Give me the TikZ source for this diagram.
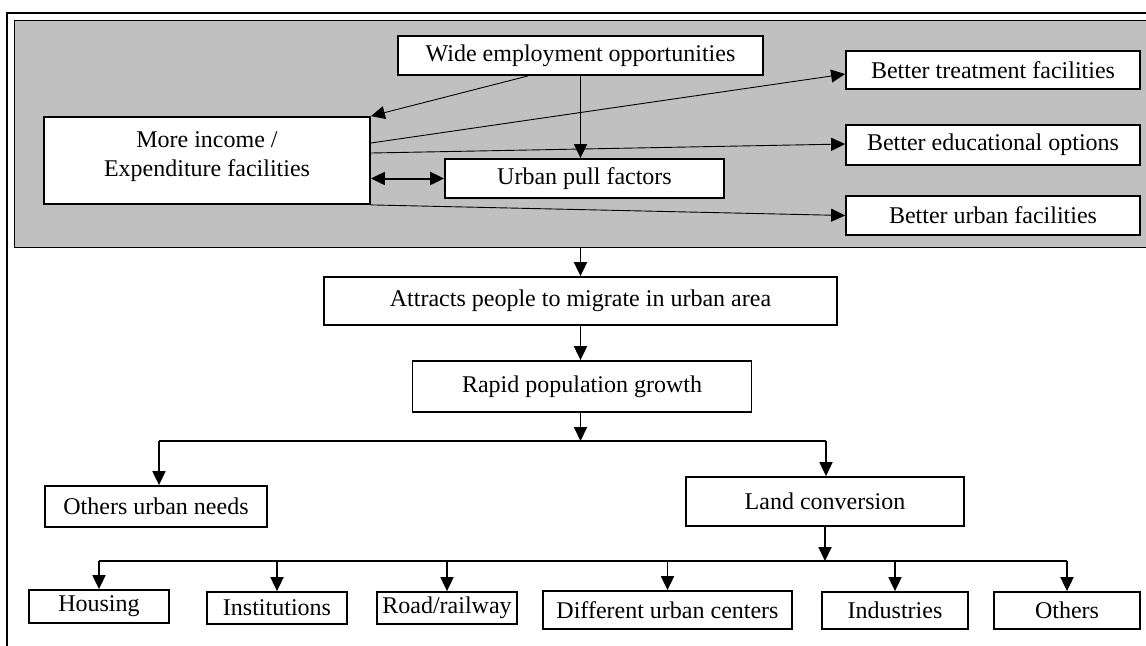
\documentclass[tikz,border=0pt]{standalone}
\usepackage{fontspec}
\setmainfont{Liberation Serif}
\usetikzlibrary{arrows.meta,calc}
\definecolor{panelgray}{RGB}{192,192,192}
\begin{document}
\begin{tikzpicture}[x=0.5pt,y=-0.5pt,
  font=\fontsize{12}{14.5}\selectfont,
  box/.style={draw, fill=white, line width=0.9pt, inner sep=0pt, align=center},
  tip/.style={Triangle[length=7pt,width=6.5pt]},
  thickarrow/.style={line width=0.9pt, -{Triangle[length=7pt,width=6.5pt]}},
  thinarrow/.style={line width=0.45pt, -{Triangle[length=7pt,width=6.5pt]}},
  plainline/.style={line width=0.9pt},
  panel/.style={draw, fill=panelgray, line width=0.7pt, inner sep=0pt}]
\clip (0,0) rectangle (1146,645);
\fill[white] (0,0) rectangle (1146,645);
% outer frame (cut off at right and bottom)
\draw[line width=1pt] (6.7,13) rectangle (1170,680);
% grey panel
\node[panel, minimum width=580pt, minimum height=113.5pt, anchor=north west] (panel) at (14,20) {};

% top boxes
\node[box, minimum width=182.5pt, minimum height=19.5pt] (wide) at (580.5,55.5) {Wide employment opportunities};
\node[box, minimum width=163pt, minimum height=43.5pt,
  label={[align=center, yshift=2pt]center:More income /\\Expenditure facilities}] (income) at (207,160.5) {};
\node[box, minimum width=139.5pt, minimum height=19.5pt] (pull) at (584.5,178.5) {Urban pull factors};
\node[box, minimum width=147pt, minimum height=19pt] (treat) at (993,70) {Better treatment facilities};
\node[box, minimum width=147pt, minimum height=20pt] (edu) at (993,145) {Better educational options};
\node[box, minimum width=147pt, minimum height=19.5pt] (ubf) at (993,215.5) {Better urban facilities};

% middle boxes
\node[box, minimum width=256.5pt, minimum height=24pt] (attr) at (580.5,301) {Attracts people to migrate in urban area};
\node[box, minimum width=169.5pt, minimum height=25.5pt] (rapid) at (582,386.5) {Rapid population growth};
\node[box, minimum width=111pt, minimum height=20.5pt] (oun) at (156,506.5) {Others urban needs};
\node[box, minimum width=139pt, minimum height=24.5pt] (land) at (825,501.5) {Land conversion};

% bottom boxes
\node[box, minimum width=70pt, minimum height=16.5pt] (housing) at (99,606.5) {Housing};
\node[box, minimum width=70pt, minimum height=16pt] (inst) at (277,608) {Institutions};
\node[box, minimum width=70pt, minimum height=16pt] (road) at (447,608) {Road/railway};
\node[box, minimum width=124.5pt, minimum height=19pt] (diff) at (667.5,610) {Different urban centers};
\node[box, minimum width=73pt, minimum height=18.5pt] (ind) at (895,610.5) {Industries};
\node[box, minimum width=73pt, minimum height=18.5pt] (oth) at (1067,610.5) {Others};

% connectors in the panel
\draw[thickarrow] (wide.south) -- (wide.south |- pull.north);
\draw[thinarrow] ([xshift=65.5pt]wide.south west) -- (income.north east);
\draw[thinarrow] ([yshift=8.75pt]income.east) -- ([yshift=-2pt]treat.west);
\draw[thinarrow] ([yshift=3.75pt]income.east) -- ([yshift=0.5pt]edu.west);
\draw[thinarrow] (income.south east) -- (ubf.west);
\draw[line width=1pt, {Triangle[length=7pt,width=6.5pt]}-{Triangle[length=7pt,width=6.5pt]}] (income.east |- pull.west) -- (pull.west);

% main flow
\draw[thickarrow] (panel.south -| attr.north) -- (attr.north);
\draw[thickarrow] (attr.south) -- (attr.south |- rapid.north);

\coordinate (bL) at (159,441);
\coordinate (bR) at (826,441);
\draw[thickarrow] (rapid.south -| attr.south) -- (attr.south |- bL);
\draw[plainline] (bL) -- (bR);
\draw[thickarrow] (bL) -- (bL |- oun.north);
\draw[thickarrow] (bR) -- (bR |- land.north);

\coordinate (cL) at (99,561);
\coordinate (cR) at (1067,561);
\draw[thickarrow] (land.south) -- (land.south |- cL);
\draw[plainline] (cL) -- (cR);
\foreach \b in {housing,inst,road,diff,ind,oth}{
  \draw[thickarrow] (\b.north |- cL) -- (\b.north);
}
\end{tikzpicture}
\end{document}
